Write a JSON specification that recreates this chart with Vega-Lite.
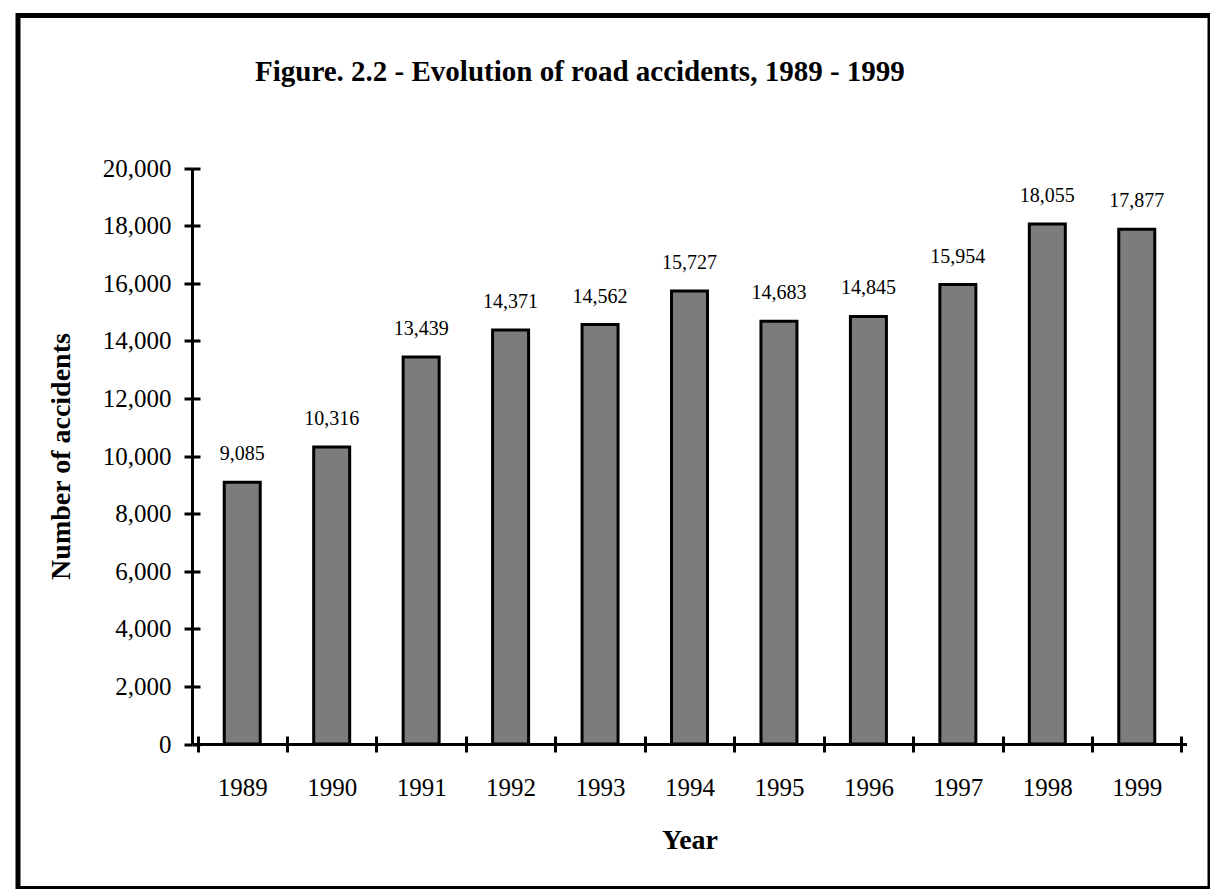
{
  "$schema": "https://vega.github.io/schema/vega-lite/v6.json",
  "width": 1192,
  "height": 873,
  "autosize": {"type": "none"},
  "padding": {"left": 18, "top": 15.5, "right": 0, "bottom": 0},
  "background": "white",
  "title": {
    "text": "Figure. 2.2 - Evolution of road accidents, 1989 - 1999",
    "font": "Liberation Serif",
    "fontSize": 29,
    "fontWeight": "bold",
    "color": "black",
    "anchor": "start",
    "frame": "group",
    "baseline": "alphabetic",
    "offset": -94,
    "dx": 237
  },
  "data": {
    "values": [
      {"year": 1989, "accidents": 9085},
      {"year": 1990, "accidents": 10316},
      {"year": 1991, "accidents": 13439},
      {"year": 1992, "accidents": 14371},
      {"year": 1993, "accidents": 14562},
      {"year": 1994, "accidents": 15727},
      {"year": 1995, "accidents": 14683},
      {"year": 1996, "accidents": 14845},
      {"year": 1997, "accidents": 15954},
      {"year": 1998, "accidents": 18055},
      {"year": 1999, "accidents": 17877}
    ]
  },
  "encoding": {
    "x": {
      "field": "year",
      "type": "quantitative",
      "scale": {"domain": [1988.5, 1999.5], "range": [174.5, 1168.5], "nice": false, "zero": false}
    },
    "y": {
      "field": "accidents",
      "type": "quantitative",
      "scale": {"domain": [0, 20000], "range": [728.5, 152.5], "nice": false, "zero": true}
    }
  },
  "layer": [
    {
      "mark": {"type": "bar", "width": 36, "fill": "#7c7c7c", "stroke": null},
      "encoding": {
        "x": {
          "field": "year", "type": "quantitative",
          "axis": {
            "orient": "bottom", "offset": -144.5, "title": null,
            "values": [1988.5, 1989.5, 1990.5, 1991.5, 1992.5, 1993.5, 1994.5, 1995.5, 1996.5, 1997.5, 1998.5, 1999.5],
            "labels": false, "ticks": true, "tickSize": 8, "tickWidth": 3, "tickColor": "black",
            "domain": true, "domainWidth": 3, "domainColor": "black", "grid": false
          }
        },
        "y": {
          "field": "accidents", "type": "quantitative",
          "axis": {
            "orient": "left", "offset": -174,
            "title": "Number of accidents",
            "titleFont": "Liberation Serif", "titleFontSize": 28, "titleFontWeight": "bold", "titleColor": "black",
            "titlePadding": 27,
            "values": [0, 2000, 4000, 6000, 8000, 10000, 12000, 14000, 16000, 18000, 20000],
            "format": ",d",
            "labelFont": "Liberation Serif", "labelFontSize": 25, "labelColor": "black", "labelPadding": 13,
            "ticks": true, "tickSize": 8, "tickWidth": 3, "tickColor": "black",
            "domain": true, "domainWidth": 3, "domainColor": "black", "grid": false
          }
        }
      }
    },
    {
      "mark": {"type": "bar", "width": 36, "fill": null, "fillOpacity": 0, "stroke": "black", "strokeWidth": 3},
      "encoding": {
        "x": {
          "field": "year", "type": "quantitative",
          "axis": {
            "orient": "bottom", "offset": -144.5, "title": null,
            "values": [1988.5, 1989.5, 1990.5, 1991.5, 1992.5, 1993.5, 1994.5, 1995.5, 1996.5, 1997.5, 1998.5, 1999.5],
            "labels": false, "ticks": true, "tickSize": -8, "tickWidth": 3, "tickColor": "black",
            "domain": false, "grid": false
          }
        },
        "y": {
          "field": "accidents", "type": "quantitative",
          "axis": {
            "orient": "left", "offset": -174, "title": null,
            "values": [0, 2000, 4000, 6000, 8000, 10000, 12000, 14000, 16000, 18000, 20000],
            "labels": false, "ticks": true, "tickSize": -8, "tickWidth": 3, "tickColor": "black",
            "domain": false, "grid": false
          }
        }
      }
    },
    {
      "mark": {"type": "text", "font": "Liberation Serif", "fontSize": 20, "color": "black", "baseline": "alphabetic", "align": "center", "dy": -22},
      "encoding": {
        "text": {"field": "accidents", "type": "quantitative", "format": ","},
        "x": {
          "field": "year", "type": "quantitative",
          "axis": {
            "orient": "bottom", "offset": -144.5,
            "title": "Year",
            "titleFont": "Liberation Serif", "titleFontSize": 28, "titleFontWeight": "bold", "titleColor": "black",
            "titlePadding": 26,
            "values": [1989, 1990, 1991, 1992, 1993, 1994, 1995, 1996, 1997, 1998, 1999],
            "format": "d",
            "labelFont": "Liberation Serif", "labelFontSize": 25, "labelColor": "black", "labelPadding": 31,
            "ticks": false, "tickSize": 0, "domain": false, "grid": false
          }
        },
        "y": {"field": "accidents", "type": "quantitative", "axis": null}
      }
    }
  ],
  "resolve": {"axis": {"x": "independent", "y": "independent"}},
  "config": {
    "view": {"stroke": "black", "strokeWidth": 5, "fill": "white"}
  }
}
